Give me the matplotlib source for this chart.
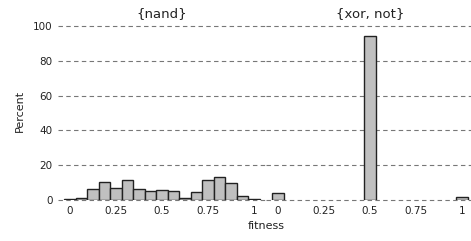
import numpy as np
import matplotlib
matplotlib.use("Agg")
import matplotlib.pyplot as plt

# fitness bins are multiples of 1/16
nand_fitness = np.arange(17) / 16
nand_percent = [0.4, 1.0, 6.1, 10.4, 6.8, 11.4, 6.1, 5.1, 5.5, 5.3,
                1.0, 4.5, 11.4, 13.3, 9.8, 2.3, 0.4]

xornot_fitness = [0.0, 0.5, 1.0]
xornot_percent = [3.8, 94.0, 1.9]

titles = ["{nand}", "{xor, not}"]
xticks = [0, 0.25, 0.5, 0.75, 1]
xticklabels = ["0", "0.25", "0.5", "0.75", "1"]
yticks = [0, 20, 40, 60, 80, 100]

plt.rcParams['font.family'] = ['DejaVu Sans']

fig = plt.figure(figsize=(4.71, 2.41), dpi=100)
W, H = 471, 241
ax1 = fig.add_axes([58 / W, 41 / H, 208 / W, 177.5 / H])
ax2 = fig.add_axes([266 / W, 41 / H, 208 / W, 177.5 / H])

for ax, xs, ys, title in [(ax1, nand_fitness, nand_percent, titles[0]),
                          (ax2, xornot_fitness, xornot_percent, titles[1])]:
    ax.bar(xs, ys, width=1 / 16, color="#c0c0c0", edgecolor="#222222",
           linewidth=1.0, zorder=3)
    ax.set_xlim(-0.065, 1.065)
    ax.set_ylim(0, 102)
    ax.set_yticks(yticks)
    ax.set_xticks(xticks)
    ax.set_xticklabels(xticklabels)
    ax.yaxis.grid(True, linestyle=(0, (4, 3)), color="#777777", linewidth=0.8,
                  zorder=0)
    for s in ax.spines.values():
        s.set_visible(False)
    ax.tick_params(length=0, labelsize=7.5, colors="#222222", pad=4)
    ax.set_title(title, fontsize=9.5, pad=4, color="#222222")
    for line in ax.yaxis.get_gridlines():
        line.set_clip_on(False)

ax2.tick_params(axis="y", left=False, labelleft=False)
ax1.set_ylabel("Percent", fontsize=8, color="#222222", labelpad=6)
fig.text(266 / W, 1 - 226 / H, "fitness", ha="center", va="center",
         fontsize=8, color="#222222")

fig.savefig("out.png", dpi=100)
